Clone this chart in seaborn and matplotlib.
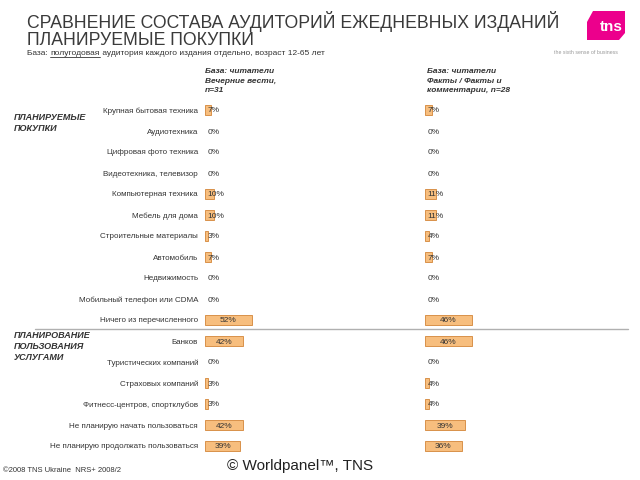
import numpy as np
import pandas as pd
import matplotlib
matplotlib.use('Agg')
import matplotlib.pyplot as plt
from matplotlib.patches import Polygon
from matplotlib.lines import Line2D
import seaborn as sns

# ── Data ──────────────────────────────────────────────────────────────────────

CATEGORIES = [
    'Крупная бытовая техника', 'Аудиотехника', 'Цифровая фото техника',
    'Видеотехника, телевизор', 'Компьютерная техника', 'Мебель для дома',
    'Строительные материалы', 'Автомобиль', 'Недвижимость',
    'Мобильный телефон или CDMA', 'Ничего из перечисленного',
    'Банков', 'Туристических компаний', 'Страховых компаний',
    'Фитнесс-центров, спортклубов', 'Не планирую начать пользоваться',
    'Не планирую продолжать пользоваться',
]
VECHERNIE = [7, 0, 0, 0, 10, 10, 3, 7, 0, 0, 52, 42, 0, 3, 3, 42, 39]
FAKTY     = [7, 0, 0, 0, 11, 11, 4, 7, 0, 0, 46, 46, 0, 4, 4, 39, 36]

HEADER_L = 'База: читатели\nВечерние вести,\nn=31'
HEADER_R = 'База: читатели\nФакты / Факты и\nкомментарии, n=28'
SECTION_1 = 'ПЛАНИРУЕМЫЕ\nПОКУПКИ'
SECTION_2 = 'ПЛАНИРОВАНИЕ\nПОЛЬЗОВАНИЯ\nУСЛУГАМИ'
N_FIRST = 11   # rows in the first section

# ── Style ─────────────────────────────────────────────────────────────────────

sns.set_style('white')
plt.rcParams['font.family'] = ['Liberation Sans', 'DejaVu Sans']

BAR_FILL = '#F7BE7E'
BAR_EDGE = '#D8914A'
TXT      = '#333333'
W, H     = 640, 480
ROW_PX   = 21
BAR_MAX_PX = 47
AX_W_PX  = 120

df = pd.DataFrame({'cat': CATEGORIES, 'left': VECHERNIE, 'right': FAKTY})

fig = plt.figure(figsize=(6.4, 4.8), dpi=100)

n = len(CATEGORIES)
top_px = 110 - ROW_PX / 2
ax_h = n * ROW_PX
bottom = (H - top_px - ax_h) / H

def panel(x_px, col, show_labels):
    ax = fig.add_axes([x_px / W, bottom, AX_W_PX / W, ax_h / H])
    sns.barplot(data=df, x=col, y='cat', ax=ax, orient='h',
                color=BAR_FILL, edgecolor=BAR_EDGE, linewidth=0.7,
                width=0.52, saturation=1)
    # no outline for empty bars
    for p in ax.patches:
        if p.get_width() == 0:
            p.set_linewidth(0)
    vals = df[col].to_numpy()
    ax.set_xlim(0, vals.max() * AX_W_PX / BAR_MAX_PX)
    ax.set_ylim(n - 0.5, -0.5)
    for i, v in enumerate(vals):
        if v >= 20:
            ax.text(v / 2, i, f'{v}%', ha='center', va='center_baseline',
                    fontsize=6, color=TXT)
        else:
            ax.annotate(f'{v}%', (0, i), xytext=(2, 0),
                        textcoords='offset points', ha='left',
                        va='center_baseline', fontsize=6, color=TXT)
    ax.set_xlabel(''); ax.set_ylabel('')
    ax.set_xticks([])
    ax.tick_params(axis='y', length=0, pad=5, labelsize=5.8,
                   labelcolor=TXT)
    if not show_labels:
        ax.set_yticklabels([])
    sns.despine(ax=ax, left=True, bottom=True)
    ax.patch.set_alpha(0)
    return ax

axL = panel(205, 'left', True)
axR = panel(425, 'right', False)

# separator between the two sections
sep_y = 1 - (top_px + N_FIRST * ROW_PX - 2) / H
fig.add_artist(Line2D([35 / W, 628 / W], [sep_y, sep_y],
                      transform=fig.transFigure, color='#b0b0b0', lw=1))

# ── Texts ─────────────────────────────────────────────────────────────────────

fig.text(27 / W, 1 - 11 / H,
         'СРАВНЕНИЕ СОСТАВА АУДИТОРИЙ ЕЖЕДНЕВНЫХ ИЗДАНИЙ\nПЛАНИРУЕМЫЕ ПОКУПКИ',
         ha='left', va='top', fontsize=12.7, color='#3a3a3a',
         linespacing=1.0)

renderer = fig.canvas.get_renderer()
x0 = 27 / W
y0 = 1 - 55 / H
parts = ['База: ', 'полугодовая', ' аудитория каждого издания отдельно, возраст 12-65 лет']
for k, p in enumerate(parts):
    t = fig.text(x0, y0, p, ha='left', va='baseline', fontsize=6, color=TXT)
    bb = t.get_window_extent(renderer).transformed(fig.transFigure.inverted())
    if k == 1:
        fig.add_artist(Line2D([bb.x0, bb.x1], [y0 - 1.5 / H, y0 - 1.5 / H],
                              transform=fig.transFigure, color=TXT, lw=0.6))
    x0 = bb.x1

for x_px, txt in [(205, HEADER_L), (427, HEADER_R)]:
    fig.text(x_px / W, 1 - 68 / H, txt, ha='left', va='top', fontsize=6,
             fontweight='bold', fontstyle='italic', color=TXT,
             linespacing=1.55)

fig.text(14 / W, 1 - 113 / H, SECTION_1, ha='left', va='top', fontsize=6.5,
         fontweight='bold', fontstyle='italic', color=TXT, linespacing=1.3)
fig.text(14 / W, 1 - 331 / H, SECTION_2, ha='left', va='top', fontsize=6.5,
         fontweight='bold', fontstyle='italic', color=TXT, linespacing=1.3)

fig.text(3 / W, 1 - 471 / H, '©2008 TNS Ukraine  NRS+ 2008/2', ha='left',
         va='center', fontsize=5.5, color=TXT)
fig.text(300 / W, 1 - 466 / H, '© Worldpanel™, TNS', ha='center',
         va='center', fontsize=11, color='#222222')

# ── Logo ──────────────────────────────────────────────────────────────────────

logo = [(587, 22), (593, 11), (625, 11), (625, 33), (619, 40), (587, 40)]
fig.add_artist(Polygon([(x / W, 1 - y / H) for x, y in logo], closed=True,
                       transform=fig.transFigure, color='#EC008C', lw=0))
fig.text(611 / W, 1 - 27 / H, 'tns', ha='center', va='center', fontsize=11,
         fontweight='bold', color='white')
fig.text(586 / W, 1 - 52 / H, 'the sixth sense of business', ha='center',
         va='center', fontsize=3.8, color='#999999')

fig.savefig('out.png', dpi=100)
